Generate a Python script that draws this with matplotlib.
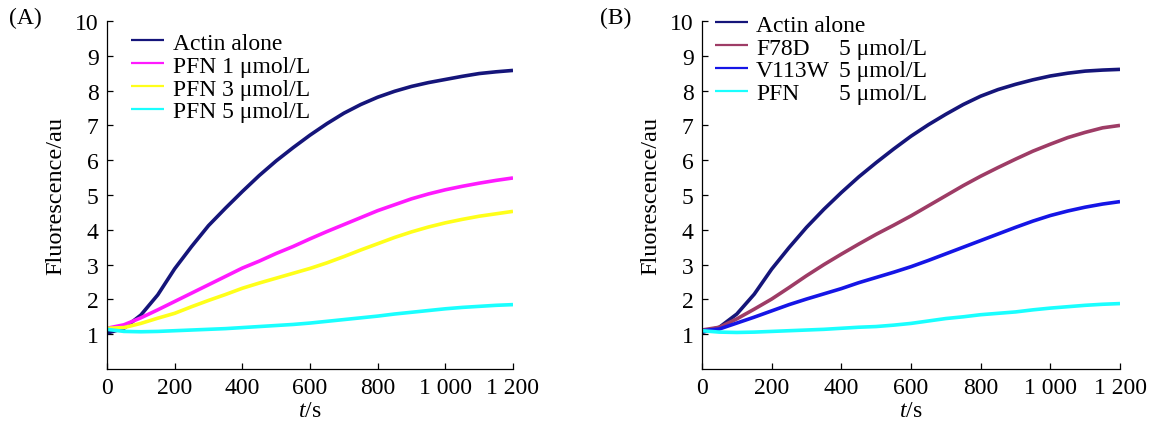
import matplotlib
matplotlib.use("Agg")
import matplotlib.pyplot as plt

plt.rcParams['font.family'] = ['Liberation Serif', 'DejaVu Serif']
plt.rcParams['mathtext.fontset'] = 'custom'
plt.rcParams['mathtext.it'] = 'Liberation Serif:italic'
plt.rcParams['mathtext.rm'] = 'Liberation Serif'

# ---------------- data ----------------
time_s = [0, 50, 100, 150, 200, 250, 300, 350, 400, 450, 500, 550, 600,
          650, 700, 750, 800, 850, 900, 950, 1000, 1050, 1100, 1150, 1200]

# Panel A
a_actin = [1.03, 1.17, 1.55, 2.13, 2.88, 3.52, 4.12, 4.62, 5.10, 5.56, 5.98, 6.36, 6.72,
           7.05, 7.35, 7.60, 7.81, 7.98, 8.12, 8.23, 8.32, 8.41, 8.49, 8.54, 8.58]
a_pfn1 = [1.17, 1.27, 1.47, 1.70, 1.94, 2.18, 2.42, 2.66, 2.90, 3.10, 3.32, 3.52, 3.74,
          3.95, 4.15, 4.35, 4.55, 4.72, 4.89, 5.03, 5.15, 5.25, 5.34, 5.42, 5.49]
a_pfn3 = [1.17, 1.19, 1.31, 1.46, 1.60, 1.79, 1.97, 2.14, 2.32, 2.47, 2.61, 2.75, 2.89,
          3.05, 3.23, 3.42, 3.60, 3.78, 3.94, 4.08, 4.20, 4.30, 4.39, 4.46, 4.53]
a_pfn5 = [1.14, 1.08, 1.07, 1.08, 1.10, 1.12, 1.14, 1.16, 1.19, 1.22, 1.25, 1.28, 1.32,
          1.37, 1.42, 1.47, 1.52, 1.58, 1.63, 1.68, 1.73, 1.77, 1.80, 1.83, 1.85]

# Panel B
b_actin = [1.05, 1.20, 1.58, 2.15, 2.87, 3.49, 4.07, 4.59, 5.07, 5.52, 5.93, 6.32, 6.69,
           7.02, 7.32, 7.60, 7.84, 8.03, 8.18, 8.31, 8.42, 8.50, 8.56, 8.59, 8.61]
b_f78d = [1.12, 1.20, 1.44, 1.72, 2.01, 2.34, 2.68, 3.00, 3.30, 3.59, 3.87, 4.13, 4.40,
          4.69, 4.98, 5.27, 5.54, 5.79, 6.03, 6.26, 6.46, 6.65, 6.80, 6.93, 7.00]
b_v113w = [1.10, 1.15, 1.32, 1.49, 1.67, 1.85, 2.01, 2.16, 2.31, 2.48, 2.63, 2.78, 2.94,
           3.12, 3.31, 3.50, 3.69, 3.88, 4.07, 4.25, 4.41, 4.54, 4.65, 4.74, 4.81]
b_pfn = [1.10, 1.06, 1.05, 1.06, 1.08, 1.10, 1.12, 1.14, 1.17, 1.20, 1.22, 1.26, 1.31,
         1.38, 1.45, 1.50, 1.56, 1.60, 1.64, 1.70, 1.75, 1.79, 1.83, 1.86, 1.88]

a_labels = ["Actin alone", "PFN 1 \u03bcmol/L", "PFN 3 \u03bcmol/L", "PFN 5 \u03bcmol/L"]
b_labels = ["Actin alone", "F78D", "V113W", "PFN"]
b_conc = "5 \u03bcmol/L"

x_ticks = [0, 200, 400, 600, 800, 1000, 1200]
x_ticklabels = ["0", "200", "400", "600", "800", "1 000", "1 200"]
y_ticks = [1, 2, 3, 4, 5, 6, 7, 8, 9, 10]

a_colors = ["#15157a", "#ff1aff", "#ffff1a", "#1affff"]
b_colors = ["#15157a", "#9e3c66", "#1515e6", "#1affff"]

FS = 17
W, H = 1151, 427
fig = plt.figure(figsize=(W / 100, H / 100), dpi=100)

def px_axes(l, r, t, b):
    return fig.add_axes([l / W, 1 - b / H, (r - l) / W, (b - t) / H])

axA = px_axes(107, 513, 22, 370)
axB = px_axes(702, 1120, 22, 370)

for ax, series, labels, colors in [
        (axA, [a_actin, a_pfn1, a_pfn3, a_pfn5], a_labels, a_colors),
        (axB, [b_actin, b_f78d, b_v113w, b_pfn], b_labels, b_colors)]:
    for ys, lab, c in zip(series, labels, colors):
        ax.plot(time_s, ys, color=c, lw=2.6, label=lab, solid_capstyle='butt')
    ax.set_xlim(0, 1200)
    ax.set_ylim(0, 10)
    ax.set_xticks(x_ticks, x_ticklabels)
    ax.set_yticks(y_ticks)
    for s in ['top', 'right']:
        ax.spines[s].set_visible(False)
    for s in ['left', 'bottom']:
        ax.spines[s].set_linewidth(0.9)
    ax.tick_params(direction='in', length=4, width=0.9, labelsize=FS, pad=6)
    ax.set_xlabel("$t$/s", fontsize=FS, labelpad=1)
    ax.set_ylabel("Fluorescence/au", fontsize=FS + 0.5, labelpad=6)

legA = axA.legend(loc='upper left', bbox_to_anchor=(0.06, 0.968), frameon=False,
                  fontsize=FS, handlelength=1.4, handletextpad=0.35,
                  labelspacing=0.06, borderpad=0, borderaxespad=0)
legB = axB.legend(loc='upper left', bbox_to_anchor=(0.03, 1.02), frameon=False,
                  fontsize=FS, handlelength=1.4, handletextpad=0.35,
                  labelspacing=0.06, borderpad=0, borderaxespad=0)
for leg in (legA, legB):
    for h in leg.get_lines():
        h.set_linewidth(1.6)

fig.text(9 / W, 1 - 18 / H, "(A)", fontsize=FS, va='center', ha='left')
fig.text(600 / W, 1 - 18 / H, "(B)", fontsize=FS, va='center', ha='left')

# align concentration column in legend B
fig.canvas.draw()
renderer = fig.canvas.get_renderer()
texts = legB.get_texts()
xcol = texts[2].get_window_extent(renderer).x1 + 9
for t in texts[1:]:
    bb = t.get_window_extent(renderer)
    fig.text(xcol / W, bb.y0 / H, b_conc, fontsize=FS, ha='left', va='bottom')

fig.savefig("out.png", dpi=100)
